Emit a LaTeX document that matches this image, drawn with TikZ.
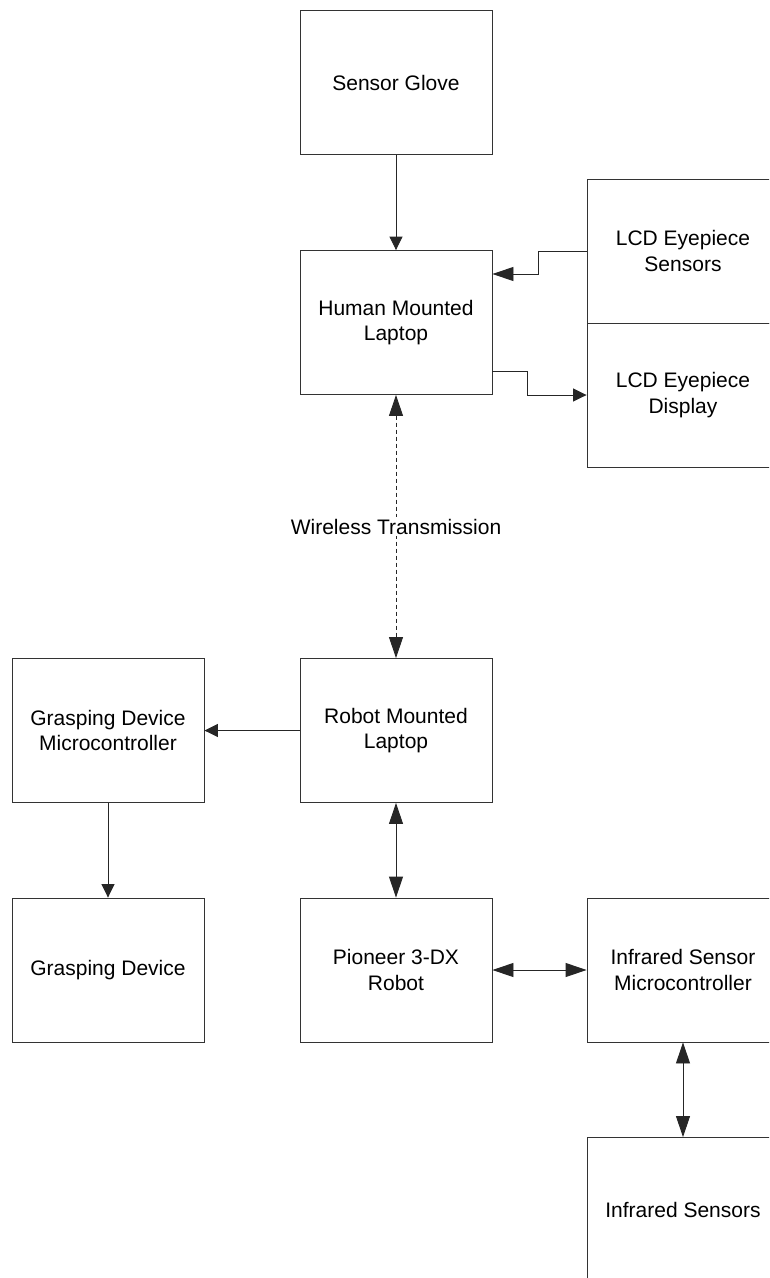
\documentclass[tikz,border=0pt]{standalone}
\usepackage{fontspec}
\setmainfont{Liberation Sans}
\usetikzlibrary{arrows.meta}
\tikzset{
  box/.style={draw=black!80, line width=0.9pt, minimum width=192pt, minimum height=144pt, inner sep=0pt, align=center, font=\fontsize{21}{25.5}\selectfont},
  conn/.style={draw=black!85, line width=0.9pt},
  shorttip/.style={conn, -{Triangle[length=13.5pt,width=13pt]}},
  longtip/.style={conn, -{Triangle[length=21pt,width=14pt]}},
  bothtip/.style={conn, {Triangle[length=21pt,width=14pt]}-{Triangle[length=21pt,width=14pt]}},
  wlabel/.style={fill=white, inner sep=2pt, font=\fontsize{21}{25.5}\selectfont}
}
\begin{document}
\begin{tikzpicture}[x=1pt,y=-1pt]
\useasboundingbox (0,0) rectangle (769,1278);
\clip (0,0) rectangle (769,1278);
\fill[white] (0,0) rectangle (769,1278);
\node[box] (glove) at (396,82.5) {Sensor Glove};
\node[box] (human) at (396,322.5) {Human Mounted\\Laptop};
\node[box] (lcds) at (683,251) {LCD Eyepiece\\Sensors};
\node[box] (lcdd) at (683,395) {LCD Eyepiece\\Display};
\node[box] (robot) at (396,730.5) {Robot Mounted\\Laptop};
\node[box] (gmc) at (108,730.5) {Grasping Device\\Microcontroller};
\node[box] (gd) at (108,970) {Grasping Device};
\node[box] (pio) at (396,970) {Pioneer 3-DX\\Robot};
\node[box] (irmc) at (683,970) {Infrared Sensor\\Microcontroller};
\node[box] (irs) at (683,1209.5) {Infrared Sensors};

\draw[shorttip] (glove.south) -- (human.north);
\draw[longtip] (lcds.west) -- ++(-48,0) |- ([yshift=48.5pt]human.east);
\draw[shorttip] ([yshift=-48.5pt]human.east) -- ++(35,0) |- (lcdd.west);
\draw[bothtip, dash pattern=on 4pt off 3pt] (human.south) -- node[wlabel] (wl) {Wireless Transmission} (robot.north);
\draw[shorttip] (robot.west) -- (gmc.east);
\draw[shorttip] (gmc.south) -- (gd.north);
\draw[bothtip] (robot.south) -- (pio.north);
\draw[bothtip] (pio.east) -- (irmc.west);
\draw[bothtip] (irmc.south) -- (irs.north);
\end{tikzpicture}
\end{document}
